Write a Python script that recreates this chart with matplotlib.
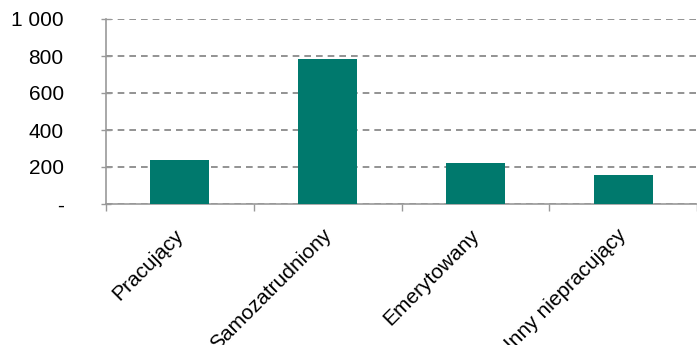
import matplotlib.pyplot as plt
from matplotlib.ticker import FixedLocator
from matplotlib.transforms import ScaledTranslation

categories = ['Pracujący', 'Samozatrudniony', 'Emerytowany', 'Inny niepracujący']
values = [238, 785, 222, 157]
yticks = [0, 200, 400, 600, 800, 1000]
ytick_labels = ['-', '200', '400', '600', '800', '1 000']

plt.rcParams['font.family'] = ['Liberation Sans', 'DejaVu Sans']

fig = plt.figure(figsize=(6.97, 3.45), dpi=100)
ax = fig.add_axes([106 / 697, 1 - 204 / 345, 1 - 106 / 697, (204 - 19) / 345])

ax.bar(range(len(categories)), values, width=0.4, color='#00796d', zorder=3)

ax.set_xlim(-0.5, len(categories) - 0.5)
ax.set_ylim(0, 1000)
ax.set_yticks(yticks)
ax.set_yticklabels(ytick_labels)
ax.set_xticks(range(len(categories)))
ax.set_xticklabels(categories, rotation=45, ha='right', va='top',
                   rotation_mode='anchor')
ax.xaxis.set_minor_locator(FixedLocator([i + 0.5 for i in range(-1, len(categories))]))

ax.tick_params(axis='x', which='major', length=0, pad=11, labelsize=15)
ax.tick_params(axis='x', which='minor', length=5, width=1, color='#999999', direction='out')
ax.tick_params(axis='y', length=7, width=1, color='#999999', direction='inout',
               labelsize=15, pad=27)

# nudge the slanted labels a little down and left
shift = ScaledTranslation(-6 / 100, -6 / 100, fig.dpi_scale_trans)
for t in ax.get_xticklabels():
    t.set_transform(t.get_transform() + shift)

ax.yaxis.grid(True, linestyle=(0, (4, 3)), color='#808080', linewidth=1.2, zorder=0)
for s in ['top', 'right']:
    ax.spines[s].set_visible(False)
for s in ['left', 'bottom']:
    ax.spines[s].set_color('#999999')
    ax.spines[s].set_linewidth(1.2)

fig.savefig('out.png', dpi=100)
